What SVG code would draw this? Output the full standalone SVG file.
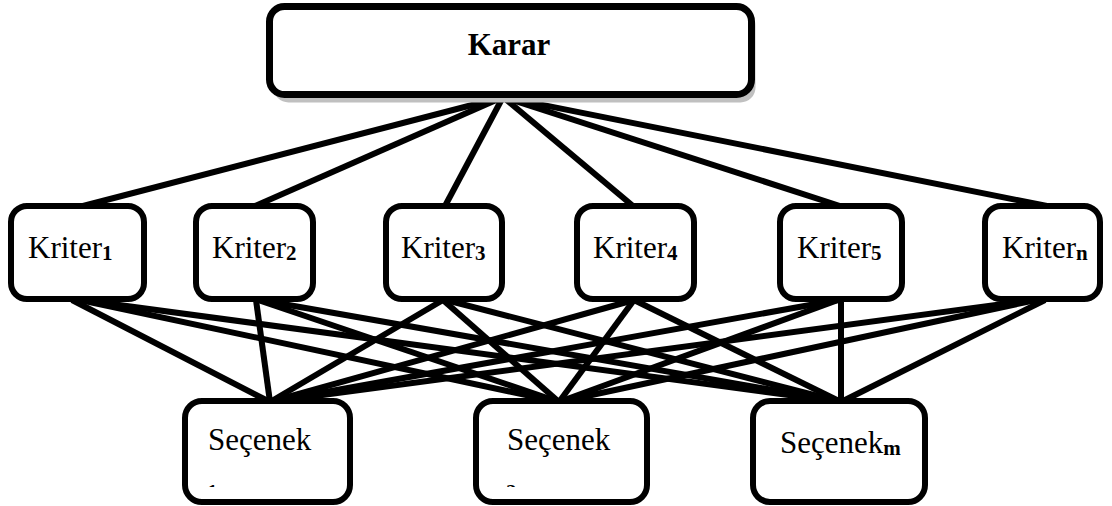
<svg xmlns="http://www.w3.org/2000/svg" width="1112" height="506" viewBox="0 0 1112 506">
  <style>
    .box { fill: #ffffff; stroke: #000000; stroke-width: 6; }
    .top { fill: #ffffff; stroke: #000000; stroke-width: 7; }
    .shadow { fill: #c0c0c0; }
    .link { stroke: #000000; stroke-width: 6; fill: none; }
    .lbl { font-family: "Liberation Serif", "Times New Roman", serif; font-size: 31px; fill: #000000; }
    .head { font-weight: bold; }
    .sub { font-family: "Liberation Serif", "Times New Roman", serif; font-size: 21px; font-weight: bold; fill: #000000; }
  </style>
  <defs>
    <!-- second-line index of the first two alternatives is cut off by its text frame -->
    <clipPath id="clipS1"><rect x="188" y="404" width="159" height="83"/></clipPath>
    <clipPath id="clipS2"><rect x="479" y="404" width="165" height="83"/></clipPath>
  </defs>

  <rect width="1112" height="506" fill="#ffffff"/>

  <!-- connectors -->
  <g id="connectors">
    <!-- decision to criteria -->
    <line class="link" x1="503" y1="97" x2="83" y2="206"/>
    <line class="link" x1="503" y1="97" x2="255" y2="206"/>
    <line class="link" x1="503" y1="97" x2="445" y2="206"/>
    <line class="link" x1="503" y1="97" x2="633" y2="206"/>
    <line class="link" x1="503" y1="97" x2="840" y2="206"/>
    <line class="link" x1="503" y1="97" x2="1047" y2="206"/>
    <!-- criteria to alternatives -->
    <line class="link" x1="72" y1="300" x2="270" y2="402"/>
    <line class="link" x1="80" y1="300" x2="559" y2="402"/>
    <line class="link" x1="82" y1="300" x2="841" y2="402"/>
    <line class="link" x1="256" y1="300" x2="270" y2="402"/>
    <line class="link" x1="258" y1="300" x2="559" y2="402"/>
    <line class="link" x1="260" y1="300" x2="841" y2="402"/>
    <line class="link" x1="443" y1="300" x2="270" y2="402"/>
    <line class="link" x1="443" y1="300" x2="559" y2="402"/>
    <line class="link" x1="446" y1="300" x2="841" y2="402"/>
    <line class="link" x1="634" y1="300" x2="270" y2="402"/>
    <line class="link" x1="634" y1="300" x2="559" y2="402"/>
    <line class="link" x1="634" y1="300" x2="841" y2="402"/>
    <line class="link" x1="838" y1="300" x2="270" y2="402"/>
    <line class="link" x1="838" y1="300" x2="559" y2="402"/>
    <line class="link" x1="841" y1="300" x2="841" y2="402"/>
    <line class="link" x1="1033" y1="300" x2="270" y2="402"/>
    <line class="link" x1="1036" y1="300" x2="559" y2="402"/>
    <line class="link" x1="1045" y1="300" x2="841" y2="402"/>
  </g>

  <!-- decision -->
  <g id="karar">
    <rect class="shadow" x="273.5" y="10.5" width="482" height="92" rx="15"/>
    <rect class="top" x="269.5" y="6.5" width="482" height="88" rx="15"/>
    <text class="lbl head" x="509" y="55" text-anchor="middle">Karar</text>
  </g>

  <!-- criteria -->
  <g id="kriter1">
    <rect class="box" x="11" y="206" width="133" height="93" rx="16"/>
    <text class="lbl" x="28" y="258">Kriter<tspan class="sub" dy="2">1</tspan></text>
  </g>
  <g id="kriter2">
    <rect class="box" x="196" y="206" width="117" height="93" rx="16"/>
    <text class="lbl" x="212" y="258">Kriter<tspan class="sub" dy="2">2</tspan></text>
  </g>
  <g id="kriter3">
    <rect class="box" x="386" y="206" width="116" height="93" rx="16"/>
    <text class="lbl" x="401" y="258">Kriter<tspan class="sub" dy="2">3</tspan></text>
  </g>
  <g id="kriter4">
    <rect class="box" x="577" y="206" width="117" height="93" rx="16"/>
    <text class="lbl" x="593" y="258">Kriter<tspan class="sub" dy="2">4</tspan></text>
  </g>
  <g id="kriter5">
    <rect class="box" x="780" y="206" width="122" height="93" rx="16"/>
    <text class="lbl" x="797" y="258">Kriter<tspan class="sub" dy="2">5</tspan></text>
  </g>
  <g id="kritern">
    <rect class="box" x="985" y="206" width="115" height="93" rx="16"/>
    <text class="lbl" x="1002" y="258">Kriter<tspan class="sub" dy="2">n</tspan></text>
  </g>

  <!-- alternatives -->
  <g id="secenek1">
    <rect class="box" x="185" y="401" width="165" height="101" rx="17"/>
    <text class="lbl" x="208" y="450">Seçenek</text>
    <text class="sub" x="207" y="499" clip-path="url(#clipS1)">1</text>
  </g>
  <g id="secenek2">
    <rect class="box" x="476" y="401" width="171" height="101" rx="17"/>
    <text class="lbl" x="507" y="450">Seçenek</text>
    <text class="sub" x="506" y="499" clip-path="url(#clipS2)">2</text>
  </g>
  <g id="secenekm">
    <rect class="box" x="753" y="401" width="172" height="101" rx="17"/>
    <text class="lbl" x="780" y="453">Seçenek<tspan class="sub" dy="2">m</tspan></text>
  </g>
</svg>
